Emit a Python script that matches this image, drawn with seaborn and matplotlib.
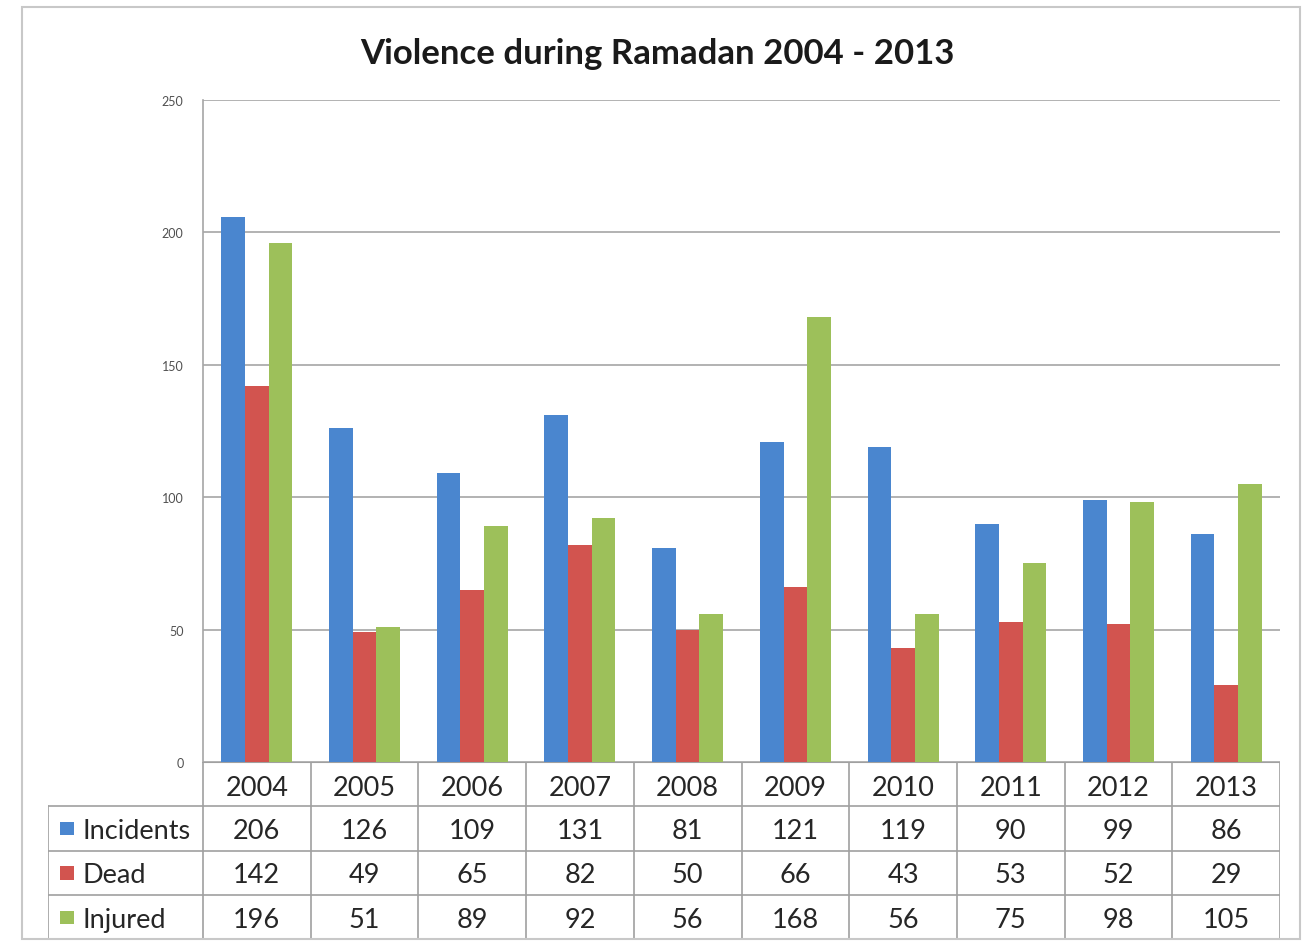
import numpy as np
import pandas as pd
import matplotlib
matplotlib.use('Agg')
import matplotlib.pyplot as plt
from matplotlib.patches import Rectangle
import seaborn as sns

# Datos
years = ['2004', '2005', '2006', '2007', '2008', '2009', '2010', '2011', '2012', '2013']
series = ['Incidents', 'Dead', 'Injured']
incidents = [206, 126, 109, 131, 81, 121, 119, 90, 99, 86]
dead = [142, 49, 65, 82, 50, 66, 43, 53, 52, 29]
injured = [196, 51, 89, 92, 56, 168, 56, 75, 98, 105]
colors = ['#4A86CF', '#D2544F', '#9DC05A']

values = {'Incidents': incidents, 'Dead': dead, 'Injured': injured}
df = pd.DataFrame([(y, s, values[s][i]) for s in series for i, y in enumerate(years)],
                  columns=['Year', 'Series', 'Value'])

sns.set_theme(style='white')
plt.rcParams['font.family'] = ['Lato', 'DejaVu Sans']

W, H = 1308, 945
fig = plt.figure(figsize=(W / 100, H / 100), dpi=100)
fig.patch.set_facecolor('white')

# marco exterior
fig.patches.append(Rectangle((22 / W, 1 - 940 / H), (1300 - 22) / W, (940 - 8) / H,
                             transform=fig.transFigure, fill=False, edgecolor='#C8C8C8', lw=1.5))

# --- grafico de barras ---
ax = fig.add_axes([203 / W, 1 - 763 / H, (1280 - 203) / W, (763 - 101) / H])
sns.barplot(data=df, x='Year', y='Value', hue='Series', hue_order=series, order=years,
            palette=colors, width=0.66, saturation=1, legend=False, ax=ax,
            edgecolor='none', linewidth=0)
ax.set_ylim(0, 250)
ax.set_xlim(-0.5, len(years) - 0.5)
ax.set_yticks([0, 50, 100, 150, 200, 250])
ax.yaxis.grid(True, color='#A6A6A6', lw=1.2)
ax.set_axisbelow(True)
ax.tick_params(axis='y', labelsize=9, colors='#505050', length=0, pad=14)
ax.set_xticks([])
ax.set_xlabel('')
ax.set_ylabel('')
for s in ['top', 'right', 'bottom']:
    ax.spines[s].set_visible(False)
ax.spines['left'].set_color('#A6A6A6')
ax.spines['left'].set_linewidth(1.2)

fig.text(657 / W, 1 - 54 / H, 'Violence during Ramadan 2004 - 2013', ha='center', va='center',
         fontsize=25, fontweight='bold', color='#1A1A1A')

# --- tabla de datos ---
label_w = (203 - 48) / ((1280 - 203) / len(years))
tab = fig.add_axes([48 / W, 1 - 940 / H, (1280 - 48) / W, (940 - 763) / H])
x0 = -0.5 - label_w
x1 = len(years) - 0.5
tab.set_xlim(x0, x1)
tab.set_ylim(4, 0)
tab.axis('off')
lc = '#A0A0A0'
tab.plot([-0.5, x1], [0, 0], color=lc, lw=1.5)
for r in [1, 2, 3, 4]:
    tab.plot([x0, x1], [r, r], color=lc, lw=1.2)
tab.plot([x0, x0], [1, 4], color=lc, lw=1.2)
for c in range(len(years) + 1):
    tab.plot([c - 0.5, c - 0.5], [0, 4], color=lc, lw=1.2)

fs = 19.5
tc = '#262626'
for i, y in enumerate(years):
    tab.text(i, 0.58, y, ha='center', va='center', fontsize=fs, color=tc)
for r, s in enumerate(series):
    tab.add_patch(Rectangle((x0 + 0.11, r + 1.36), 0.135, 0.3, facecolor=colors[r], edgecolor='none'))
    tab.text(x0 + 0.32, r + 1.55, s, ha='left', va='center', fontsize=fs, color=tc)
    for i, v in enumerate(values[s]):
        tab.text(i, r + 1.55, str(v), ha='center', va='center', fontsize=fs, color=tc)

fig.savefig('out.png', dpi=100)
